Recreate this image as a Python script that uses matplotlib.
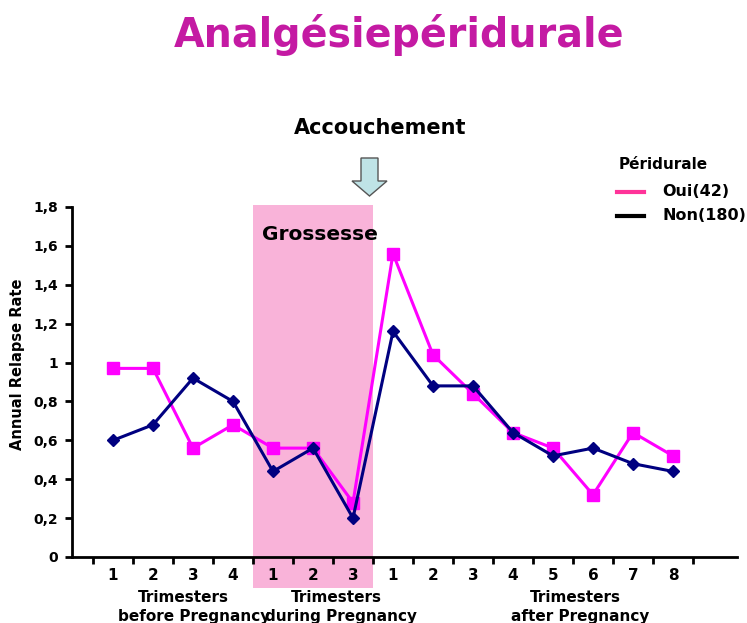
import matplotlib
matplotlib.use("Agg")
import matplotlib.pyplot as plt
from matplotlib.patches import Rectangle, Polygon
from matplotlib.lines import Line2D

tick_labels = ["1", "2", "3", "4", "1", "2", "3", "1", "2", "3", "4", "5", "6", "7", "8"]
oui = [0.97, 0.97, 0.56, 0.68, 0.56, 0.56, 0.28, 1.56, 1.04, 0.84, 0.64, 0.56, 0.32, 0.64, 0.52]
non = [0.60, 0.68, 0.92, 0.80, 0.44, 0.56, 0.20, 1.16, 0.88, 0.88, 0.64, 0.52, 0.56, 0.48, 0.44]
y_ticks = [0, 0.2, 0.4, 0.6, 0.8, 1.0, 1.2, 1.4, 1.6, 1.8]
y_tick_labels = ["0", "0,2", "0,4", "0,6", "0,8", "1", "1,2", "1,4", "1,6", "1,8"]

W, H = 747, 623
fig = plt.figure(figsize=(W / 100, H / 100), dpi=100)
ax = fig.add_axes([72 / W, (H - 557) / H, (737 - 72) / W, (557 - 207) / H])

x = list(range(len(oui)))
ax.set_xlim(-1.025, 15.6)
ax.set_ylim(0, 1.8)

# pregnancy span
ax.add_patch(Rectangle((3.5, -0.16), 3.0, 1.97, facecolor="#F9B3D9", edgecolor="none",
                       clip_on=False, zorder=0))

ax.plot(x, oui, color="#FF00FF", lw=2.2, marker="s", ms=8, zorder=3, clip_on=False)
ax.plot(x, non, color="#000080", lw=2.2, marker="D", ms=6.5, zorder=4, clip_on=False)

for s in ["top", "right"]:
    ax.spines[s].set_visible(False)
for s in ["left", "bottom"]:
    ax.spines[s].set_linewidth(2)
    ax.spines[s].set_color("black")

ax.set_yticks(y_ticks)
ax.set_yticklabels(y_tick_labels, fontsize=10, fontweight="bold")
ax.tick_params(axis="y", length=5, width=2, pad=5)

ax.set_xticks([i + 0.5 for i in range(-1, len(oui))])
ax.set_xticklabels([])
ax.set_xticks(x, minor=True)
ax.set_xticklabels(tick_labels, minor=True, fontsize=11, fontweight="bold")
ax.tick_params(axis="x", which="major", length=5, width=2, direction="out")
ax.tick_params(axis="x", which="minor", length=0, pad=8)

def ft(px, py, s, **kw):
    fig.text(px / W, 1 - py / H, s, **kw)

ft(18, 364, "Annual Relapse Rate", fontsize=10.5, fontweight="bold", rotation=90,
   ha="center", va="center")

ft(399, 35, "Analgésiepéridurale", fontsize=28.5, fontweight="bold", color="#C41AA3",
   ha="center", va="center")
ft(380, 128, "Accouchement", fontsize=15, fontweight="bold", ha="center", va="center")
ft(320, 234, "Grossesse", fontsize=14.5, fontweight="bold", ha="center", va="center")

# arrow
pts = [(361, 158), (378, 158), (378, 181), (387, 181), (369.5, 196), (352, 181), (361, 181)]
fig.patches.append(Polygon([(px / W, 1 - py / H) for px, py in pts], closed=True,
                           facecolor="#BFE3E6", edgecolor="#555555", lw=1,
                           transform=fig.transFigure))

# legend
ft(619, 165, "Péridurale", fontsize=11, fontweight="bold", ha="left", va="center")
fig.lines.append(Line2D([617 / W, 644 / W], [1 - 192 / H] * 2, color="#FF3399", lw=3,
                        transform=fig.transFigure))
fig.lines.append(Line2D([617 / W, 644 / W], [1 - 216 / H] * 2, color="black", lw=3,
                        transform=fig.transFigure))
ft(662, 192, "Oui(42)", fontsize=11.5, fontweight="bold", ha="left", va="center")
ft(662, 216, "Non(180)", fontsize=11.5, fontweight="bold", ha="left", va="center")

# group labels
gkw = dict(fontsize=11, fontweight="bold", ha="center", va="center")
ft(183, 598, "Trimesters", **gkw)
ft(194, 616, "before Pregnancy", **gkw)
ft(336, 598, "Trimesters", **gkw)
ft(341, 616, "during Pregnancy", **gkw)
ft(575, 598, "Trimesters", **gkw)
ft(580, 616, "after Pregnancy", **gkw)

fig.savefig("out.png", dpi=100)
